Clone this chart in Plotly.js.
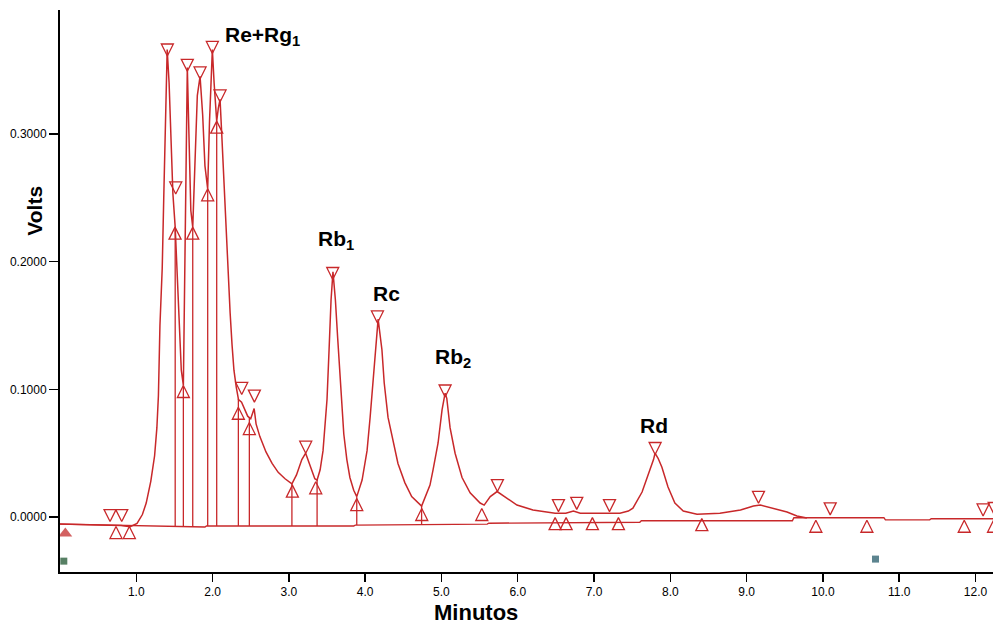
<!DOCTYPE html>
<html>
<head>
<meta charset="utf-8">
<script src="https://cdn.plot.ly/plotly-3.0.1.min.js"></script>
<style>
  html, body { margin: 0; padding: 0; background: #ffffff; }
  #chart { width: 995px; height: 627px; }
</style>
</head>
<body>
<div id="chart"></div>
<script>
// Detector signal (minutes, volts)
const signalTime = [
  0.00, 0.40, 0.80, 0.92, 1.01, 1.08, 1.13, 1.19, 1.24, 1.27, 1.29, 1.31, 1.34, 1.36, 1.38, 1.395,
  1.405, 1.43, 1.46, 1.48, 1.51, 1.55, 1.59, 1.617, 1.635, 1.65, 1.669, 1.69, 1.715, 1.74, 1.77, 1.80,
  1.836, 1.87, 1.90, 1.936, 1.96, 1.98, 1.997, 2.02, 2.045, 2.054, 2.075, 2.098, 2.12, 2.15, 2.18, 2.20,
  2.23, 2.255, 2.28, 2.31, 2.34, 2.38, 2.42, 2.46, 2.50, 2.545, 2.57, 2.62, 2.70, 2.78, 2.86, 2.95,
  3.04, 3.10, 3.17, 3.22, 3.28, 3.34, 3.37, 3.41, 3.448, 3.50, 3.527, 3.553, 3.578, 3.61, 3.64, 3.68,
  3.72, 3.76, 3.80, 3.85, 3.89, 3.96, 4.025, 4.065, 4.10, 4.13, 4.16, 4.17, 4.22, 4.25, 4.30, 4.37,
  4.43, 4.52, 4.61, 4.74, 4.85, 4.89, 4.956, 5.008, 5.048, 5.07, 5.113, 5.179, 5.27, 5.376, 5.507, 5.56,
  5.64, 5.73, 5.86, 5.99, 6.20, 6.49, 6.63, 6.73, 6.82, 7.34, 7.45, 7.51, 7.63, 7.71, 7.78, 7.80,
  7.84, 7.89, 7.97, 8.06, 8.17, 8.35, 8.65, 8.92, 9.09, 9.18, 9.35, 9.53, 9.66, 9.79
];
const signalVolts = [
  -0.0055, -0.0060, -0.0066, -0.0075, -0.0050, 0.0020, 0.0110, 0.0280, 0.0480, 0.0700, 0.0950, 0.1500, 0.1950, 0.2500, 0.3050, 0.3500,
  0.3660, 0.3400, 0.2800, 0.2530, 0.2270, 0.1700, 0.1150, 0.1030, 0.1800, 0.2800, 0.3520, 0.3000, 0.2400, 0.2270, 0.2800, 0.3300,
  0.3450, 0.3150, 0.2750, 0.2570, 0.3100, 0.3500, 0.3660, 0.3400, 0.3150, 0.3100, 0.3200, 0.3270, 0.3000, 0.2600, 0.2200, 0.1900,
  0.1600, 0.1350, 0.1150, 0.1020, 0.0920, 0.0900, 0.0840, 0.0790, 0.0770, 0.0850, 0.0730, 0.0630, 0.0510, 0.0420, 0.0350, 0.0300,
  0.0260, 0.0330, 0.0450, 0.0500, 0.0400, 0.0300, 0.0290, 0.0370, 0.0520, 0.0920, 0.1310, 0.1700, 0.1920, 0.1700, 0.1400, 0.1000,
  0.0650, 0.0450, 0.0310, 0.0210, 0.0160, 0.0290, 0.0520, 0.0780, 0.1050, 0.1310, 0.1490, 0.1550, 0.1310, 0.1050, 0.0780, 0.0580,
  0.0420, 0.0270, 0.0160, 0.0086, 0.0250, 0.0370, 0.0580, 0.0840, 0.0970, 0.0930, 0.0700, 0.0500, 0.0310, 0.0190, 0.0110, 0.0094,
  0.0160, 0.0200, 0.0150, 0.0094, 0.0055, 0.0030, 0.0030, 0.0047, 0.0030, 0.0030, 0.0047, 0.0070, 0.0196, 0.0330, 0.0450, 0.0500,
  0.0460, 0.0390, 0.0235, 0.0110, 0.0047, 0.0023, 0.0030, 0.0055, 0.0086, 0.0094, 0.0070, 0.0040, 0.0008, -0.0008
];

// Integration baseline
const baseTime  = [0, 0.9, 1.9, 1.92, 3.85, 3.87, 5.6, 5.62, 7.6, 7.62, 9.6, 9.62, 10.8, 10.82, 11.4, 11.42, 12.23];
const baseVolts = [-0.0055, -0.0068, -0.0078, -0.0070, -0.0070, -0.0063, -0.0055, -0.0048, -0.0040, -0.0029, -0.0029, -0.0005, -0.0005, -0.0022, -0.0022, -0.0013, -0.0013];

// Peak start marks (tip at the marked point)
const apexTime  = [0.656, 0.809, 1.407, 1.517, 1.669, 1.836, 1.997, 2.098, 2.382, 2.548, 3.221, 3.575, 4.161, 5.048, 5.734, 6.534, 6.774, 7.203, 7.801, 9.156, 10.096, 12.10, 12.245];
const apexVolts = [-0.0035, -0.0035, 0.361, 0.253, 0.349, 0.343, 0.363, 0.325, 0.096, 0.090, 0.050, 0.186, 0.152, 0.094, 0.020, 0.0043, 0.006, 0.0043, 0.049, 0.0108, 0.0017, 0.0009, 0.002];

// Peak end marks (tip at the marked point)
const endTime  = [0.734, 0.909, 1.508, 1.617, 1.740, 1.936, 2.054, 2.338, 2.482, 3.046, 3.352, 3.89, 4.742, 5.529, 6.49, 6.634, 6.979, 7.32, 8.413, 9.908, 10.577, 11.853, 12.237];
const endVolts = [-0.0074, -0.0074, 0.227, 0.103, 0.227, 0.257, 0.310, 0.086, 0.074, 0.025, 0.0276, 0.0145, 0.0067, 0.0067, -0.0004, -0.0004, -0.0004, -0.0004, -0.0012, -0.0025, -0.0025, -0.0025, -0.0025];

// Drop lines from the signal down to the baseline
const dropTime = [1.51, 1.617, 1.74, 1.936, 2.054, 2.338, 2.482, 3.04, 3.37, 3.89, 4.74];

// Event marks below the trace
const eventTime   = [0.07, 0.05, 10.69];
const eventVolts  = [-0.0128, -0.0345, -0.0329];
const eventSymbol = ['triangle-up', 'square', 'square'];
const eventColor  = ['#c01e1e', '#0f4a22', '#17505f'];
const eventSize   = [12, 7, 7];

// Peak names
const peakLabels = ['Re+Rg<sub>1</sub>', 'Rb<sub>1</sub>', 'Rc', 'Rb<sub>2</sub>', 'Rd'];
const labelTime  = [2.137, 3.357, 4.078, 4.89, 7.578];
const labelVolts = [0.3765, 0.217, 0.175, 0.1245, 0.072];

// X tick labels
const xTickVals = [1, 2, 3, 4, 5, 6, 7, 8, 9, 10, 11, 12];
const xTickText = xTickVals.map(v => v.toFixed(1));

function interp(xs, ys, x) {
  for (let i = 1; i < xs.length; i++) {
    if (x <= xs[i]) {
      const f = (x - xs[i - 1]) / (xs[i] - xs[i - 1]);
      return ys[i - 1] + f * (ys[i] - ys[i - 1]);
    }
  }
  return ys[ys.length - 1];
}

const dropX = [], dropY = [];
dropTime.forEach(t => {
  dropX.push(t, t, null);
  dropY.push(interp(signalTime, signalVolts, t), interp(baseTime, baseVolts, t), null);
});

const red = '#c8282a';

const traces = [
  { x: baseTime, y: baseVolts, mode: 'lines', line: { color: red, width: 1.4 }, hoverinfo: 'skip' },
  { x: dropX, y: dropY, mode: 'lines', line: { color: red, width: 1.3 }, hoverinfo: 'skip' },
  { x: signalTime, y: signalVolts, mode: 'lines', line: { color: red, width: 1.5 }, hoverinfo: 'skip' },
  { x: apexTime, y: apexVolts, mode: 'markers',
    marker: { symbol: 'arrow-down-open', size: 12, color: red, line: { color: red, width: 1.3 } }, hoverinfo: 'skip' },
  { x: endTime, y: endVolts, mode: 'markers',
    marker: { symbol: 'arrow-up-open', size: 12, color: red, line: { color: red, width: 1.3 } }, hoverinfo: 'skip' },
  { x: eventTime, y: eventVolts, mode: 'markers',
    marker: { symbol: eventSymbol, size: eventSize, color: eventColor, line: { width: 0 } }, hoverinfo: 'skip' }
];

const annotations = peakLabels.map((txt, i) => ({
  x: labelTime[i], y: labelVolts[i], xref: 'x', yref: 'y',
  text: '<b>' + txt + '</b>', showarrow: false, xanchor: 'left', yanchor: 'middle',
  font: { family: 'Liberation Sans, Arial, sans-serif', size: 21, color: '#000' }
}));

annotations.push({
  x: -0.0273, y: 0.642, xref: 'paper', yref: 'paper', text: '<b>Volts</b>', textangle: -90,
  showarrow: false, xanchor: 'center', yanchor: 'middle',
  font: { family: 'Liberation Sans, Arial, sans-serif', size: 21, color: '#000' }
});
annotations.push({
  x: 0.446, y: -0.0712, xref: 'paper', yref: 'paper', text: '<b>Minutos</b>',
  showarrow: false, xanchor: 'center', yanchor: 'middle',
  font: { family: 'Liberation Sans, Arial, sans-serif', size: 22, color: '#000' }
});

const layout = {
  width: 995, height: 627,
  margin: { l: 60, r: 2, t: 10, b: 55 },
  paper_bgcolor: '#ffffff', plot_bgcolor: '#ffffff',
  showlegend: false, hovermode: false,
  xaxis: {
    range: [0, 12.23], showgrid: false, zeroline: false,
    showline: true, linecolor: '#000', linewidth: 2,
    ticks: 'outside', ticklen: 8, tickwidth: 1.5, tickcolor: '#000',
    tickvals: xTickVals, ticktext: xTickText,
    tickfont: { family: 'Liberation Sans, Arial, sans-serif', size: 12, color: '#000' }
  },
  yaxis: {
    range: [-0.043, 0.397], showgrid: false, zeroline: false,
    showline: true, linecolor: '#000', linewidth: 2,
    ticks: 'outside', ticklen: 9, tickwidth: 1.5, tickcolor: '#000',
    tickvals: [0, 0.1, 0.2, 0.3], tickformat: '.4f',
    tickfont: { family: 'Liberation Sans, Arial, sans-serif', size: 12, color: '#000' }
  },
  annotations: annotations
};

Plotly.newPlot('chart', traces, layout, { displayModeBar: false, staticPlot: true });
</script>
</body>
</html>
